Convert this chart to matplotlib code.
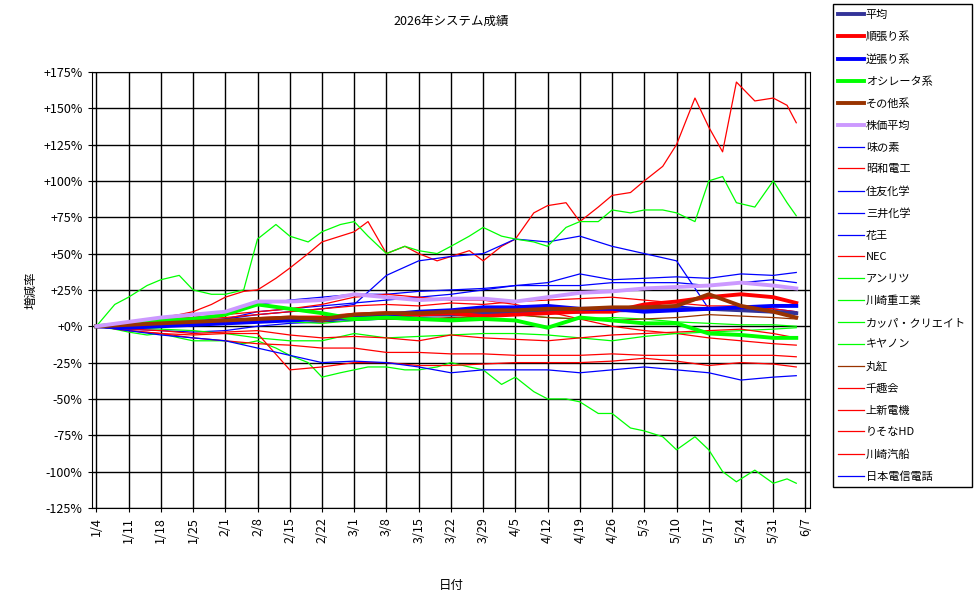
import matplotlib
matplotlib.use("Agg")
import matplotlib.pyplot as plt
import matplotlib.dates as mdates
import matplotlib.ticker as mticker
import numpy as np
from datetime import date, timedelta

plt.rcParams['font.family'] = ['Noto Sans CJK JP', 'DejaVu Sans']

# weekly sample dates
week_dates = [date(2026, 1, 4) + timedelta(days=7 * i) for i in range(22)] + [date(2026, 6, 5)]
# finer dates for the three big movers
fine_days = ["1/4", "1/8", "1/11", "1/15", "1/18", "1/22", "1/25", "1/29", "2/1", "2/5", "2/8", "2/12",
             "2/15", "2/19", "2/22", "2/26", "3/1", "3/4", "3/8", "3/12", "3/15", "3/19", "3/22", "3/26",
             "3/29", "4/2", "4/5", "4/9", "4/12", "4/16", "4/19", "4/23", "4/26", "4/30", "5/3", "5/7",
             "5/10", "5/14", "5/17", "5/20", "5/23", "5/27", "5/31", "6/3", "6/5"]
fine_dates = [date(2026, int(s.split("/")[0]), int(s.split("/")[1])) for s in fine_days]

avg_all = [0, 0, 1, 2, 3, 4, 5, 5, 6, 7, 8, 8, 9, 9, 10, 10, 11, 11, 12, 12, 11, 10, 9]
trend = [0, 0, 1, 2, 3, 5, 6, 6, 8, 9, 8, 9, 7, 8, 9, 10, 10, 15, 17, 20, 22, 20, 16]
contra = [0, -1, 0, 1, 2, 3, 4, 5, 7, 8, 10, 11, 13, 13, 14, 12, 12, 10, 11, 12, 13, 14, 14]
oscil = [0, 2, 4, 5, 8, 15, 12, 9, 5, 6, 5, 4, 5, 4, -1, 6, 4, 2, 2, -5, -6, -8, -8]
other = [0, 1, 2, 3, 4, 5, 6, 5, 8, 9, 9, 10, 11, 11, 12, 12, 13, 13, 14, 22, 14, 10, 6]
stock_avg = [0, 3, 6, 8, 10, 17, 17, 18, 22, 20, 18, 19, 19, 17, 20, 23, 24, 26, 27, 28, 30, 28, 26]

ajinomoto = [0, -2, -3, -4, -3, 0, 2, 3, 4, 5, 6, 5, 7, 8, 10, 12, 11, 13, 14, 12, 12, 10, 10]
showa = [0, 2, 3, 5, 6, 8, 10, 15, 20, 24, 25, 33, 40, 50, 58, 62, 65, 72, 50, 55, 50, 45, 48, 52,
         45, 55, 60, 78, 83, 85, 72, 82, 90, 92, 100, 110, 125, 157, 137, 120, 168, 155, 157, 152, 140]
sumitomo = [0, 2, 3, 4, 5, 8, 10, 12, 15, 35, 45, 48, 50, 60, 58, 62, 55, 50, 45, 12, 12, 12, 10]
mitsui = [0, 2, 4, 6, 8, 15, 18, 20, 22, 22, 24, 25, 26, 28, 30, 36, 32, 33, 34, 33, 36, 35, 37]
kao = [0, 1, 2, 3, 5, 10, 12, 14, 16, 18, 20, 22, 25, 28, 28, 28, 30, 30, 30, 28, 30, 32, 30]
nec = [0, 3, 5, 6, 8, 10, 12, 15, 20, 22, 20, 18, 18, 15, 10, 5, 0, -3, -5, -8, -10, -12, -13]
anritsu = [0, 15, 20, 28, 32, 35, 25, 22, 22, 25, 60, 70, 62, 58, 65, 70, 72, 62, 50, 55, 52, 50, 55,
           62, 68, 62, 60, 58, 55, 68, 72, 72, 80, 78, 80, 80, 78, 72, 100, 103, 85, 82, 100, 85, 76]
khi = [0, 2, 3, 2, 4, 5, 3, 2, 4, 5, 4, 5, 7, 8, 6, 5, 6, 5, 3, 2, 1, 1, 0]
kappa = [0, -2, -4, -6, -5, -8, -10, -10, -10, -12, -10, -15, -20, -25, -35, -32, -30, -28, -28, -30,
         -30, -28, -25, -28, -30, -40, -35, -45, -50, -50, -52, -60, -60, -70, -72, -76, -85, -76, -85,
         -100, -107, -99, -108, -105, -108]
canon = [0, -1, -2, -3, -5, -8, -10, -10, -5, -8, -7, -6, -5, -5, -6, -8, -10, -7, -5, -4, -3, -2, -1]
marubeni = [0, 1, 2, 1, 2, 4, 5, 3, 6, 5, 5, 6, 7, 8, 6, 5, 4, 5, 6, 8, 7, 6, 5]
senshukai = [0, -3, -5, -8, -10, -12, -13, -15, -15, -18, -18, -19, -19, -20, -20, -20, -19, -20, -20, -20, -20, -20, -21]
joshin = [0, -3, -5, -6, -5, -5, -30, -28, -25, -25, -27, -27, -26, -25, -25, -25, -24, -22, -24, -27, -25, -26, -28]
resona = [0, 2, 4, 5, 6, 8, 10, 12, 14, 15, 14, 16, 15, 17, 18, 19, 20, 18, 16, 14, 14, 12, 10]
kline = [0, -2, -3, -5, -4, -3, -6, -8, -7, -8, -10, -6, -8, -9, -10, -8, -6, -5, -4, -3, -2, -5, -8]
ntt = [0, -3, -6, -8, -10, -15, -20, -25, -24, -25, -28, -32, -30, -30, -30, -32, -30, -28, -30, -32, -37, -35, -34]

RED, BLUE, GREEN, BROWN = '#ff0000', '#0000ff', '#00ff00', '#993300'

thick = [
    ("平均", avg_all, '#333399'),
    ("順張り系", trend, RED),
    ("逆張り系", contra, BLUE),
    ("オシレータ系", oscil, GREEN),
    ("その他系", other, BROWN),
    ("株価平均", stock_avg, '#cc99ff'),
]
thin = [
    ("味の素", ajinomoto, BLUE, week_dates),
    ("昭和電工", showa, RED, fine_dates),
    ("住友化学", sumitomo, BLUE, week_dates),
    ("三井化学", mitsui, BLUE, week_dates),
    ("花王", kao, BLUE, week_dates),
    ("NEC", nec, RED, week_dates),
    ("アンリツ", anritsu, GREEN, fine_dates),
    ("川崎重工業", khi, GREEN, week_dates),
    ("カッパ・クリエイト", kappa, GREEN, fine_dates),
    ("キヤノン", canon, GREEN, week_dates),
    ("丸紅", marubeni, BROWN, week_dates),
    ("千趣会", senshukai, RED, week_dates),
    ("上新電機", joshin, RED, week_dates),
    ("りそなHD", resona, RED, week_dates),
    ("川崎汽船", kline, RED, week_dates),
    ("日本電信電話", ntt, BLUE, week_dates),
]

fig = plt.figure(figsize=(9.76, 5.99), dpi=100)
ax = fig.add_axes([0.094, 0.152, 0.736, 0.728])

handles = []
for name, vals, col, dts in thin:
    h, = ax.plot(dts, vals, color=col, linewidth=0.9, label=name, zorder=2)
    handles.append(h)
thick_handles = []
for name, vals, col in thick:
    h, = ax.plot(week_dates, vals, color=col, linewidth=2.8, label=name, zorder=3)
    thick_handles.append(h)

ax.set_xlim(date(2026, 1, 3), date(2026, 6, 8))
ax.set_ylim(-125, 175)
ax.set_xticks([date(2026, 1, 4) + timedelta(days=7 * i) for i in range(23)])
ax.xaxis.set_major_formatter(mticker.FuncFormatter(
    lambda x, p: f"{mdates.num2date(x).month}/{mdates.num2date(x).day}"))
ax.set_yticks(np.arange(-125, 176, 25))
ax.yaxis.set_major_formatter(mticker.FuncFormatter(
    lambda v, p: f"{v:+.0f}%" if v != 0 else "+0%"))
plt.setp(ax.get_xticklabels(), rotation=90)
ax.tick_params(labelsize=9, length=3)
ax.grid(True, color='black', linewidth=1)
for s in ax.spines.values():
    s.set_color('black')

ax.set_title("2026年システム成績", fontsize=9, pad=34)
ax.set_xlabel("日付", fontsize=9, labelpad=26)
ax.set_ylabel("増減率", fontsize=9)

leg = fig.legend(handles=thick_handles + handles, loc='upper left',
                 bbox_to_anchor=(0.853, 0.993), fontsize=8, fancybox=False,
                 edgecolor='black', framealpha=1, handlelength=2.3,
                 handletextpad=0.2, labelspacing=1.05, borderaxespad=0,
                 borderpad=0.5)
leg.get_frame().set_linewidth(1)

fig.savefig("out.png", dpi=100)
